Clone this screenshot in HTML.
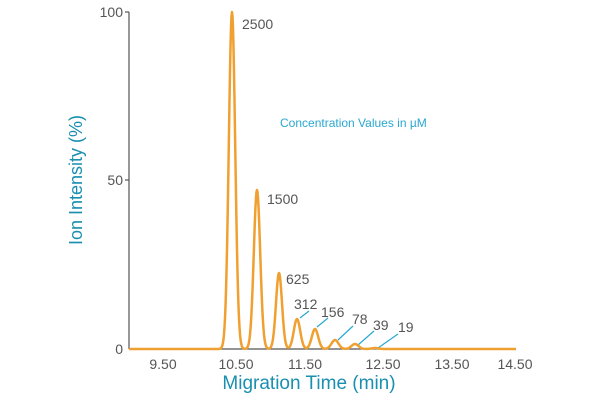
<!DOCTYPE html>
<html><head><style>
body{margin:0;background:#fff}
svg text{font-family:"Liberation Sans",sans-serif}
</style></head><body>
<svg id="s" width="600" height="400" xmlns="http://www.w3.org/2000/svg">
<g stroke="#555" stroke-width="1.2" fill="none">
<line x1="129" y1="12" x2="129" y2="349"/>
<line x1="125" y1="12" x2="129" y2="12"/>
<line x1="125" y1="180" x2="129" y2="180"/>
<line x1="129" y1="349" x2="516" y2="349"/>
</g>
<g fill="#555" font-size="14">
<text x="123" y="17" text-anchor="end">100</text>
<text x="123" y="185" text-anchor="end">50</text>
<text x="123" y="354" text-anchor="end">0</text>
<g text-anchor="middle">
<text x="163" y="369">9.50</text>
<text x="236" y="369">10.50</text>
<text x="305" y="369">11.50</text>
<text x="383" y="369">12.50</text>
<text x="452" y="369">13.50</text>
<text x="515" y="369">14.50</text>
</g>
<text x="242" y="29">2500</text>
<text x="267" y="204">1500</text>
<text x="286" y="284">625</text>
<text x="294" y="309">312</text>
<text x="321" y="317">156</text>
<text x="352" y="324">78</text>
<text x="373" y="330">39</text>
<text x="398" y="332">19</text>
</g>
<text x="309" y="389" text-anchor="middle" font-size="19" fill="#1a8fb0">Migration Time (min)</text>
<text transform="translate(82,180) rotate(-90)" text-anchor="middle" font-size="18" fill="#1a8fb0">Ion Intensity (%)</text>
<text x="280" y="127" font-size="12" fill="#29a8d0">Concentration Values in µM</text>
<g stroke="#29a8d0" stroke-width="1.2">
<line x1="300" y1="318" x2="309" y2="311"/>
<line x1="317" y1="327" x2="328" y2="318"/>
<line x1="338" y1="340" x2="353" y2="326"/>
<line x1="358" y1="345" x2="374" y2="331"/>
<line x1="378" y1="348" x2="398" y2="334"/>
</g>
<path id="p" fill="none" stroke="#F0A030" stroke-width="2.5" stroke-linejoin="round"/>
</svg>
<script>
var pk=[[232,337,3.2],[257,159,3.2],[279,76,3.0],[297,30,3.2],[315,20,3.2],[335,9,3.5],[355,5,3.5],[375,1,3.5]];
var d="M129,349";
for(var x=129;x<=516;x+=0.5){var y=0;pk.forEach(function(p){y+=p[1]*Math.exp(-Math.pow((x-p[0])/p[2],2)/2)});d+=" L"+x+","+(349-y).toFixed(2);}
document.getElementById("p").setAttribute("d",d);
</script>
</body></html>
